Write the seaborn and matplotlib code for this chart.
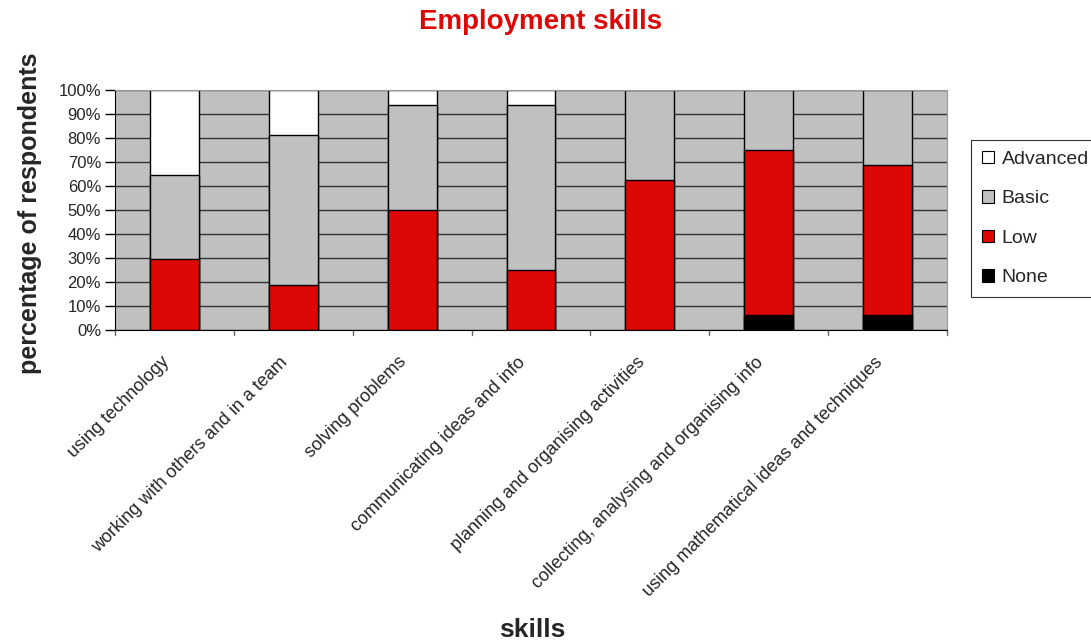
import matplotlib
matplotlib.use("Agg")
import matplotlib.pyplot as plt
import matplotlib.transforms as mtransforms
from matplotlib.patches import Patch
import seaborn as sns
import numpy as np
import pandas as pd

skills = ["using technology", "working with others and in a team", "solving problems",
          "communicating ideas and info", "planning and organising activities",
          "collecting, analysing and organising info", "using mathematical ideas and techniques"]
none_pct = [0, 0, 0, 0, 0, 6.25, 6.25]
low_pct = [29.4, 18.75, 50.0, 25.0, 62.5, 68.75, 62.5]
basic_pct = [35.3, 62.5, 43.75, 68.75, 37.5, 25.0, 31.25]
advanced_pct = [35.3, 18.75, 6.25, 6.25, 0, 0, 0]

series = ["Advanced", "Basic", "Low", "None"]
colors = {"Advanced": "#FFFFFF", "Basic": "#C0C0C0", "Low": "#DD0806", "None": "#000000"}

sns.set_style("white")
plt.rcParams['font.family'] = ['Liberation Sans', 'DejaVu Sans']

df = pd.DataFrame({"skill": skills, "None": none_pct, "Low": low_pct,
                   "Basic": basic_pct, "Advanced": advanced_pct})
df["cum_None"] = df["None"]
df["cum_Low"] = df["cum_None"] + df["Low"]
df["cum_Basic"] = df["cum_Low"] + df["Basic"]
df["cum_Advanced"] = df["cum_Basic"] + df["Advanced"]

fig = plt.figure(figsize=(10.91, 6.43), dpi=100)
ax = fig.add_axes([115 / 1091, 1 - 330 / 643, 832 / 1091, 240 / 643])
ax.set_facecolor("#C0C0C0")
ax.set_axisbelow(True)
ax.yaxis.grid(True, color="#333333", linewidth=1.0)

for s in series:
    vals = df["cum_" + s].where(df[s] > 0, np.nan) if s in ("None", "Advanced") else df["cum_" + s]
    d = pd.DataFrame({"skill": skills, "v": vals})
    sns.barplot(data=d, x="skill", y="v", color=colors[s], saturation=1, width=0.41,
                edgecolor="black", linewidth=1.0, ax=ax, errorbar=None, order=skills)

ax.set_ylim(0, 100)
ax.set_xlim(-0.5, len(skills) - 0.5)
ax.set_yticks(np.arange(0, 101, 10))
ax.set_yticklabels([f"{v}%" for v in range(0, 101, 10)], fontsize=12)
ax.tick_params(axis="y", length=7, width=1, color="black", pad=3, left=True)
ax.set_xticks(np.arange(len(skills)))
ax.set_xticklabels(skills, rotation=45, ha="right", va="top", rotation_mode="anchor", fontsize=13)
ax.tick_params(axis="x", length=0, pad=17)
offset = mtransforms.ScaledTranslation(-14 / 100, 0, fig.dpi_scale_trans)
for lab in ax.get_xticklabels():
    lab.set_transform(lab.get_transform() + offset)
for b in np.arange(-0.5, len(skills), 1.0):
    ax.plot([b, b], [0, -2.0], color="#666666", lw=1, clip_on=False)

for sp in ["top", "right"]:
    ax.spines[sp].set_color("#999999")
ax.spines["left"].set_color("black")
ax.spines["bottom"].set_color("black")

ax.set_xlabel("")
ax.set_ylabel("")
fig.text(541 / 1091, 1 - 22 / 643, "Employment skills", color="#DD0806", fontsize=20, fontweight="bold",
         ha="center", va="center")
fig.text(30 / 1091, 1 - 213 / 643, "percentage of respondents", rotation=90, fontsize=18, fontweight="bold",
         ha="center", va="center")
fig.text(532 / 1091, 1 - 630 / 643, "skills", fontsize=19, fontweight="bold", ha="center", va="center")

handles = [Patch(facecolor=colors[s], edgecolor="black", linewidth=0.8) for s in series]
leg = fig.legend(handles, series, loc="upper left", bbox_to_anchor=(971 / 1091, 1 - 140 / 643),
                 bbox_transform=fig.transFigure, fontsize=14, frameon=True, fancybox=False,
                 handlelength=0.62, handleheight=0.62, handletextpad=0.4, labelspacing=1.15,
                 borderpad=0.55, borderaxespad=0, edgecolor="black")
leg.get_frame().set_linewidth(0.8)

fig.savefig("out.png", dpi=100)
